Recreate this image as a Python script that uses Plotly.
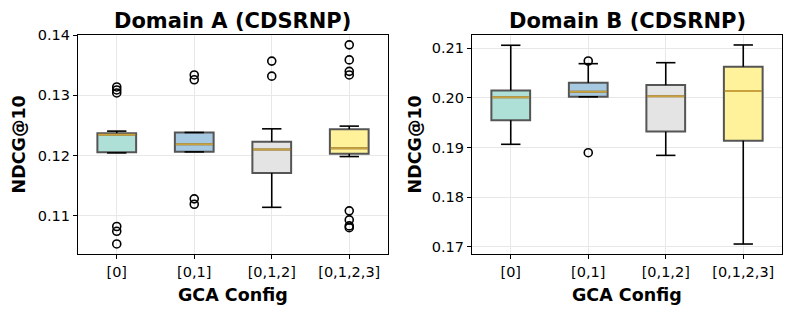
import plotly.graph_objects as go

# ---------------- data ----------------
configs = ["[0]", "[0,1]", "[0,1,2]", "[0,1,2,3]"]
positions = [1, 2, 3, 4]

# Domain A
a_q1 = [0.12056, 0.12061, 0.11711, 0.12028]
a_med = [0.12344, 0.12189, 0.12100, 0.12122]
a_q3 = [0.12372, 0.12383, 0.12228, 0.12439]
a_lo = [0.12044, 0.12061, 0.11139, 0.11983]
a_hi = [0.12406, 0.12383, 0.12444, 0.12489]
a_out = [
    [0.1314, 0.1309, 0.1304, 0.1082, 0.1074, 0.1053],
    [0.1334, 0.1326, 0.1128, 0.1119],
    [0.1357, 0.1332],
    [0.1384, 0.1359, 0.1340, 0.1334, 0.1108, 0.1093, 0.1083, 0.1080],
]

# Domain B
b_q1 = [0.19548, 0.20020, 0.19319, 0.19137]
b_med = [0.20013, 0.20121, 0.20034, 0.20135]
b_q3 = [0.20148, 0.20303, 0.20256, 0.20627]
b_lo = [0.19063, 0.20020, 0.18840, 0.17053]
b_hi = [0.21059, 0.20688, 0.20708, 0.21065]
b_out = [
    [],
    [0.20742, 0.18894],
    [],
    [],
]

fill_colors = ["#afe0d8", "#a6c8e0", "#e4e4e4", "#fff29a"]
titles = ["Domain A (CDSRNP)", "Domain B (CDSRNP)"]
y_ranges = [[0.10363, 0.14004], [0.16852, 0.21266]]

# ---------------- layout geometry ----------------
W, H = 793, 314
x_domains = [[78 / W, 388 / W], [472 / W, 782 / W]]
y_domain = [1 - 254 / H, 1 - 35 / H]
box_w = 0.5
cap_w = 0.25

fig = go.Figure()

domains = [
    (a_q1, a_med, a_q3, a_lo, a_hi, a_out),
    (b_q1, b_med, b_q3, b_lo, b_hi, b_out),
]

for d, (q1, med, q3, lo, hi, outs) in enumerate(domains):
    xa = "x" if d == 0 else "x2"
    ya = "y" if d == 0 else "y2"
    # boxes
    for i, p in enumerate(positions):
        fig.add_trace(go.Box(
            x=[p], q1=[q1[i]], median=[med[i]], q3=[q3[i]],
            lowerfence=[q1[i]], upperfence=[q3[i]],
            width=box_w, whiskerwidth=0, orientation="v",
            fillcolor=fill_colors[i],
            line=dict(color="#555555", width=2),
            boxpoints=False, showlegend=False, hoverinfo="skip",
            xaxis=xa, yaxis=ya,
        ))
    # whiskers + caps
    wx, wy = [], []
    for i, p in enumerate(positions):
        wx += [p, p, None, p, p, None]
        wy += [q3[i], hi[i], None, q1[i], lo[i], None]
        wx += [p - cap_w / 2, p + cap_w / 2, None, p - cap_w / 2, p + cap_w / 2, None]
        wy += [hi[i], hi[i], None, lo[i], lo[i], None]
    fig.add_trace(go.Scatter(
        x=wx, y=wy, mode="lines", line=dict(color="black", width=1.6),
        showlegend=False, hoverinfo="skip", xaxis=xa, yaxis=ya,
    ))
    # medians
    mx, my = [], []
    for i, p in enumerate(positions):
        mx += [p - box_w / 2 + 0.01, p + box_w / 2 - 0.01, None]
        my += [med[i], med[i], None]
    fig.add_trace(go.Scatter(
        x=mx, y=my, mode="lines", line=dict(color="#c9a23e", width=2),
        showlegend=False, hoverinfo="skip", xaxis=xa, yaxis=ya,
    ))
    # outliers
    ox, oy = [], []
    for i, p in enumerate(positions):
        ox += [p] * len(outs[i])
        oy += outs[i]
    fig.add_trace(go.Scatter(
        x=ox, y=oy, mode="markers",
        marker=dict(symbol="circle-open", size=8, color="black", line=dict(width=1.6, color="black")),
        showlegend=False, hoverinfo="skip", xaxis=xa, yaxis=ya,
    ))

axis_common = dict(
    showline=True, linecolor="black", linewidth=1.2, mirror=True,
    ticks="outside", ticklen=4, tickwidth=1, tickcolor="black",
    showgrid=True, gridcolor="#e8e8e8", gridwidth=1,
    zeroline=False, automargin=False,
    tickfont=dict(family="DejaVu Sans", size=14.5, color="black"),
)

fig.update_layout(
    width=W, height=H,
    margin=dict(l=0, r=0, t=0, b=0),
    paper_bgcolor="white", plot_bgcolor="white",
    showlegend=False,
    xaxis=dict(domain=x_domains[0], range=[0.5, 4.5], tickvals=positions, ticktext=configs,
               anchor="y", **axis_common),
    yaxis=dict(domain=y_domain, range=y_ranges[0], dtick=0.01, tick0=0, tickformat=".2f",
               anchor="x", **axis_common),
    xaxis2=dict(domain=x_domains[1], range=[0.5, 4.5], tickvals=positions, ticktext=configs,
                anchor="y2", **axis_common),
    yaxis2=dict(domain=y_domain, range=y_ranges[1], dtick=0.01, tick0=0, tickformat=".2f",
                anchor="x2", **axis_common),
)

bold = dict(family="DejaVu Sans", color="black")
annotations = []
for d in range(2):
    cx = (x_domains[d][0] + x_domains[d][1]) / 2
    annotations.append(dict(
        text="<b>%s</b>" % titles[d], x=cx, y=1 - 20.5 / H, xref="paper", yref="paper",
        xanchor="center", yanchor="middle", showarrow=False, font=dict(size=21, **bold)))
    annotations.append(dict(
        text="<b>GCA Config</b>", x=cx, y=1 - 294.5 / H, xref="paper", yref="paper",
        xanchor="center", yanchor="middle", showarrow=False, font=dict(size=17.5, **bold)))
    ylab_x = [19 / W, 415 / W][d]
    annotations.append(dict(
        text="<b>NDCG@10</b>", x=ylab_x, y=(y_domain[0] + y_domain[1]) / 2,
        xref="paper", yref="paper", xanchor="center", yanchor="middle",
        textangle=-90, showarrow=False, font=dict(size=17.5, **bold)))
fig.update_layout(annotations=annotations)

fig.write_html("out.html", config={"displayModeBar": False},
               post_script="document.body.style.margin='0';")
